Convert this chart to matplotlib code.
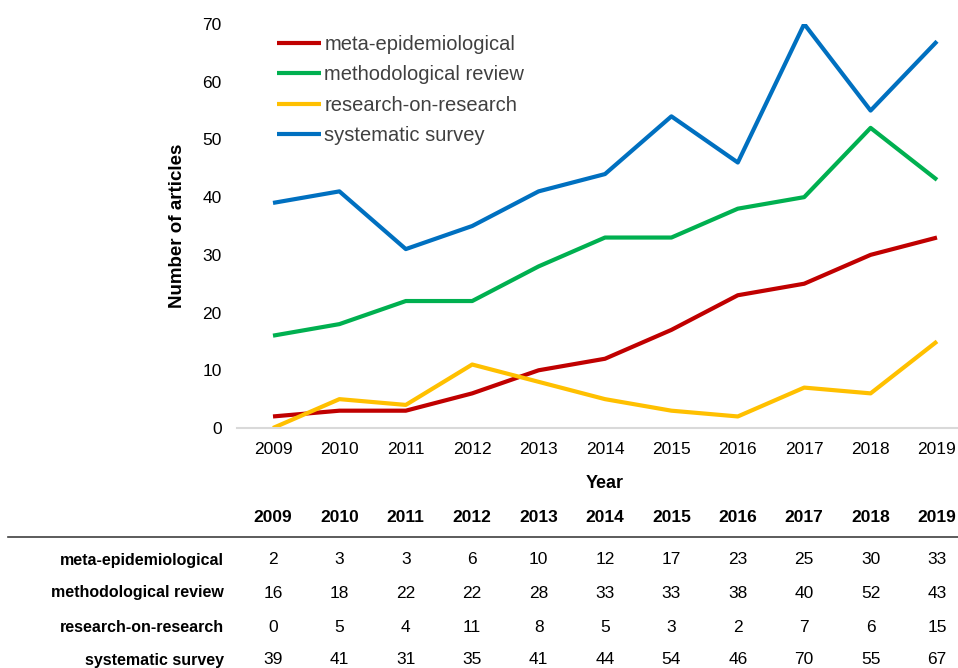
import matplotlib.pyplot as plt
import matplotlib.transforms as mtransforms
from matplotlib.lines import Line2D

plt.rcParams['font.family'] = ['Liberation Sans', 'DejaVu Sans']

years = [2009, 2010, 2011, 2012, 2013, 2014, 2015, 2016, 2017, 2018, 2019]
meta_epi = [2, 3, 3, 6, 10, 12, 17, 23, 25, 30, 33]
method_review = [16, 18, 22, 22, 28, 33, 33, 38, 40, 52, 43]
research_on = [0, 5, 4, 11, 8, 5, 3, 2, 7, 6, 15]
sys_survey = [39, 41, 31, 35, 41, 44, 54, 46, 70, 55, 67]

names = ['meta-epidemiological', 'methodological review',
         'research-on-research', 'systematic survey']
series = [meta_epi, method_review, research_on, sys_survey]
colors = ['#C00000', '#00B050', '#FFC000', '#0070C0']

W, H = 958, 668
# the original chart is cropped on the right, so the axes run past the edge
ax_l, ax_r, ax_t, ax_b = 237, 973, 24, 428
fig = plt.figure(figsize=(W / 100, H / 100), dpi=100)
ax = fig.add_axes([ax_l / W, (H - ax_b) / H, (ax_r - ax_l) / W, (ax_b - ax_t) / H])

for vals, c, n in zip(series, colors, names):
    ax.plot(years, vals, color=c, lw=3, label=n, solid_capstyle='butt')

step = 66.4
ax.set_xlim(2009 - 36 / step, 2019 + 36 / step)
ax.set_ylim(0, 70)
ax.set_xticks(years)
ax.set_yticks(range(0, 71, 10))
for s in ['top', 'right', 'left']:
    ax.spines[s].set_visible(False)
ax.spines['bottom'].set_color('#d9d9d9')
ax.spines['bottom'].set_linewidth(1.5)
ax.tick_params(length=0, labelsize=12.5)
ax.tick_params(axis='x', pad=10)
ax.tick_params(axis='y', pad=11)

ax.set_xlabel('Year', fontsize=13, fontweight='bold', va='center')
ax.xaxis.set_label_coords(0.5, -(483 - ax_b) / (ax_b - ax_t))
ax.set_ylabel('Number of articles', fontsize=13.5, fontweight='bold', va='center')
ax.yaxis.set_label_coords(-(ax_l - 178) / (ax_r - ax_l), 0.5)

leg = ax.legend(loc='upper left',
                bbox_to_anchor=((277 - ax_l) / (ax_r - ax_l), (ax_b - 35) / (ax_b - ax_t)),
                frameon=False, fontsize=14.5, handlelength=2.2, handletextpad=0.15,
                labelspacing=0.57, borderaxespad=0, borderpad=0)
for t in leg.get_texts():
    t.set_color('#404040')

# data table under the chart
trans = mtransforms.blended_transform_factory(ax.transData, fig.transFigure)
for yr in years:
    fig.text(yr, 1 - 517 / H, str(yr), transform=trans, ha='center', va='center',
             fontsize=12.5, fontweight='bold')
fig.add_artist(Line2D([8 / W, 1], [1 - 537 / H] * 2, color='#404040', lw=1.2))
row_y = [560, 593, 627, 660]
for n, vals, ry in zip(names, series, row_y):
    fig.text(224 / W, 1 - ry / H, n, ha='right', va='center',
             fontsize=11.5, fontweight='bold')
    for yr, v in zip(years, vals):
        fig.text(yr, 1 - ry / H, str(v), transform=trans, ha='center',
                 va='center', fontsize=12.5)

fig.savefig('out.png', dpi=100)
